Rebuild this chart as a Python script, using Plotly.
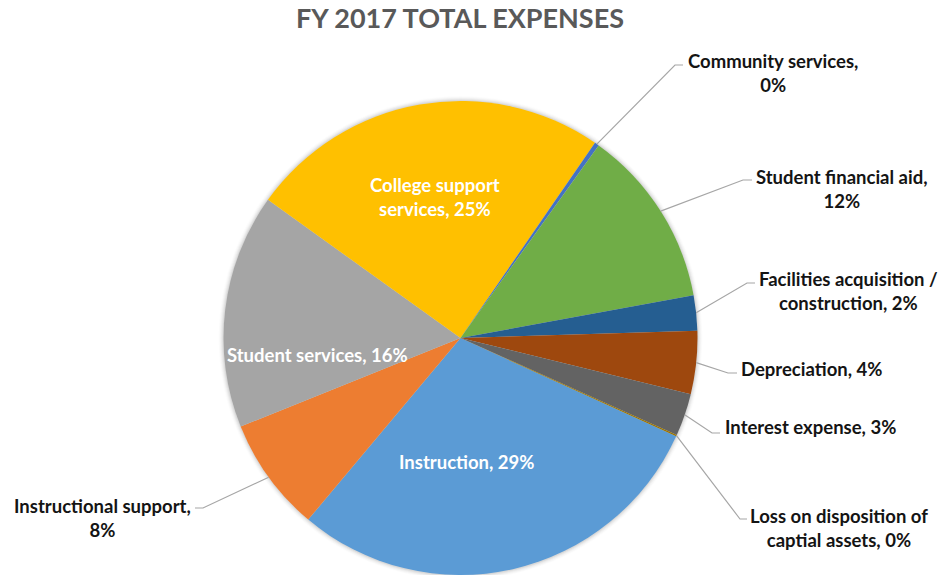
import math
import plotly.graph_objects as go

# FY 2017 expense shares (percent of total), listed clockwise from Instruction
categories = [
    "Instruction",
    "Instructional support",
    "Student services",
    "College support services",
    "Community services",
    "Student financial aid",
    "Facilities acquisition / construction",
    "Depreciation",
    "Interest expense",
    "Loss on disposition of captial assets",
]
shares = [29.3, 7.8, 16.0, 24.7, 0.3, 12.2, 2.4, 4.3, 2.9, 0.1]
colors = ["#5B9BD5", "#ED7D31", "#A5A5A5", "#FFC000", "#4472C4",
          "#70AD47", "#255E91", "#9E480E", "#636363", "#997300"]

# ---- canvas and pie geometry (pixels) ----
W, H = 944, 575
CX, CY, R = 460.5, 338.0, 237.0
ROTATION = 114.5          # first slice starts here, measured clockwise from 12 o'clock
FONT = "Lato"
LABEL_SIZE = 18.5
TITLE_SIZE = 27


def px(x):
    return x / W


def py(y):
    return 1 - y / H


# label placement: centre of the text block, words on the first line,
# and for outside labels the elbow / end points of the leader line
label_layout = {
    "Instruction": dict(pos=(466, 462), inside=True),
    "Instructional support": dict(pos=(102, 518), words=2, elbow=(203, 508), end=(195, 508)),
    "Student services": dict(pos=(317, 355), inside=True),
    "College support services": dict(pos=(435, 197), words=2, inside=True),
    "Community services": dict(pos=(773, 73), words=2, elbow=(675, 65), end=(683, 65)),
    "Student financial aid": dict(pos=(842, 189), words=3, elbow=(743, 180), end=(752, 180)),
    "Facilities acquisition / construction": dict(pos=(848, 291), words=3, elbow=(747, 283), end=(755, 283)),
    "Depreciation": dict(pos=(811, 369), elbow=(728, 373), end=(737, 373)),
    "Interest expense": dict(pos=(810, 427), elbow=(712, 433), end=(720, 433)),
    "Loss on disposition of captial assets": dict(pos=(839, 528), words=4, elbow=(740, 519), end=(747, 519)),
}

fig = go.Figure()

fig.add_trace(go.Pie(
    labels=categories,
    values=shares,
    sort=False,
    direction="clockwise",
    rotation=ROTATION,
    marker=dict(colors=colors, line=dict(width=0)),
    textinfo="none",
    hovertemplate="%{label}: %{percent:.0%}<extra></extra>",
    showlegend=False,
    domain=dict(x=[px(CX - R), px(CX + R)], y=[py(CY + R), py(CY - R)]),
))

shapes = []
# soft halo around the pie
for i, alpha in enumerate([0.05, 0.04, 0.03, 0.02, 0.012]):
    rr = R + 1 + i
    shapes.append(dict(
        type="circle", xref="paper", yref="paper", layer="below",
        x0=px(CX - rr), x1=px(CX + rr), y0=py(CY + rr), y1=py(CY - rr),
        fillcolor=f"rgba(0,0,0,{alpha})", line=dict(width=0),
    ))

annotations = []
total = sum(shares)
cum = 0.0
for name, value in zip(categories, shares):
    spec = label_layout[name]
    mid = math.radians(ROTATION + 360.0 * (cum + value / 2) / total)
    cum += value

    pct = round(100 * value / total)
    words = f"{name}, {pct}%".split(" ")
    n = spec.get("words")
    text = " ".join(words) if n is None else " ".join(words[:n]) + "<br>" + " ".join(words[n:])

    inside = spec.get("inside", False)
    x, y = spec["pos"]
    annotations.append(dict(
        x=px(x), y=py(y), xref="paper", yref="paper",
        xanchor="center", yanchor="middle", showarrow=False, align="center",
        text=f"<b>{text}</b>",
        font=dict(family=FONT, size=LABEL_SIZE, color="#FFFFFF" if inside else "#141414"),
    ))

    if not inside:
        # leader line from the slice edge to the label
        ex = CX + R * math.sin(mid)
        ey = CY - R * math.cos(mid)
        bx, by = spec["elbow"]
        tx, ty = spec["end"]
        path = (f"M {px(ex)} {py(ey)} L {px(bx)} {py(by)} L {px(tx)} {py(ty)}")
        shapes.append(dict(
            type="path", xref="paper", yref="paper", layer="above", path=path,
            line=dict(color="#A6A6A6", width=1.2),
        ))

fig.update_layout(
    width=W, height=H,
    margin=dict(l=0, r=0, t=0, b=0),
    paper_bgcolor="white", plot_bgcolor="white",
    title=dict(
        text="<b>FY 2017 TOTAL EXPENSES</b>",
        x=px(460), y=py(19), xanchor="center", yanchor="middle",
        font=dict(family=FONT, size=TITLE_SIZE, color="#595959"),
    ),
    shapes=shapes,
    annotations=annotations,
)

fig.write_html("out.html")
